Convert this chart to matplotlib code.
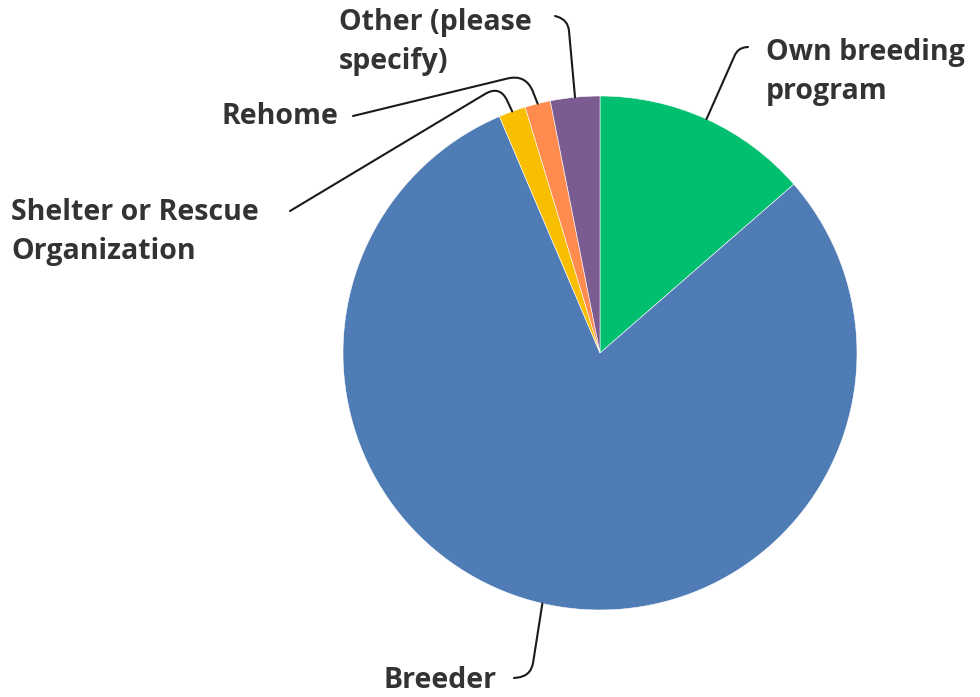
import numpy as np
import matplotlib
matplotlib.use("Agg")
import matplotlib.pyplot as plt
from matplotlib.path import Path
from matplotlib.patches import PathPatch

# data (percent of respondents)
labels = ["Own breeding\nprogram", "Breeder", "Shelter or Rescue\nOrganization",
          "Rehome", "Other (please\nspecify)"]
values = [13.6, 80.0, 1.7, 1.6, 3.1]
colors = ["#00bf6f", "#507cb6", "#f9be00", "#ff8b4f", "#7b5c91"]

# layout, in pixels of the 980x697 canvas: pie centre and radius
cx, cy, R = 600, 353, 257
W, H = 980, 697

def px(x, y):
    return ((x - cx) / R, (cy - y) / R)

# label text position (left edge, vertical centre), bend point, line end
text_pos = [(766, 72), (383, 680), (11, 232), (221, 117), (339, 42)]
bend_pos = [(738, 48), (531, 676), (500, 85), (526, 74), (568, 20)]
end_pos = [(748, 47), (514, 678), (290, 211), (353, 116), (555, 16)]

fig = plt.figure(figsize=(W / 100, H / 100), dpi=100)
ax = fig.add_axes([0, 0, 1, 1])
wedges, _ = ax.pie(values, colors=colors, startangle=90, counterclock=False,
                   radius=1, center=(0, 0),
                   wedgeprops=dict(edgecolor="white", linewidth=0.4))
ax.set_xlim(-cx / R, (W - cx) / R)
ax.set_ylim((cy - H) / R, cy / R)
ax.set_aspect("equal")
ax.axis("off")

txt_color = "#333333"
rnd = 0.08  # corner rounding, data units
for w, lab, tp, bp, ep in zip(wedges, labels, text_pos, bend_pos, end_pos):
    mid = np.deg2rad((w.theta1 + w.theta2) / 2)
    a = np.array([np.cos(mid), np.sin(mid)])
    c = np.array(px(*bp))
    e = np.array(px(*ep))
    d1 = np.linalg.norm(c - a)
    d2 = np.linalg.norm(e - c)
    r = min(rnd, 0.6 * d1, 0.8 * d2)
    p1 = c + (a - c) / d1 * r
    p2 = c + (e - c) / d2 * r
    verts = [a, p1, c, p2, e]
    codes = [Path.MOVETO, Path.LINETO, Path.CURVE3, Path.CURVE3, Path.LINETO]
    ax.add_patch(PathPatch(Path(verts, codes), fill=False, edgecolor="#1a1a1a",
                           linewidth=1.5, capstyle="round"))
    tx, ty = px(*tp)
    ax.text(tx, ty, lab, ha="left", va="center", fontsize=20.5,
            fontweight="bold", color=txt_color, family=["Open Sans", "DejaVu Sans"],
            linespacing=1.43)

fig.savefig("out.png", dpi=100)
